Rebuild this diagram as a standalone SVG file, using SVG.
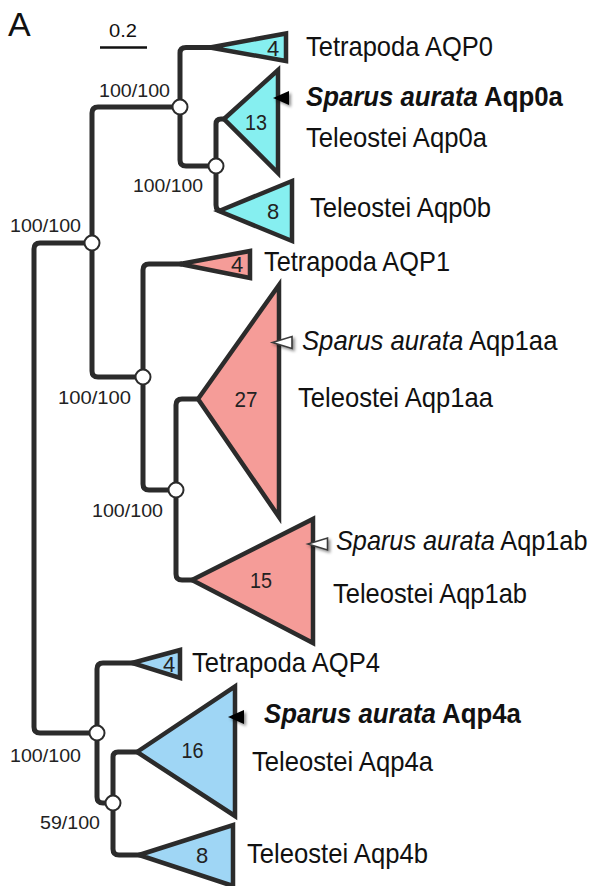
<svg xmlns="http://www.w3.org/2000/svg" width="596" height="886" viewBox="0 0 596 886">
  <style>
    text { font-family: "Liberation Sans", Arial, sans-serif; fill: #111; }
    .lbl { font-size: 28.5px; }
    .sp { font-weight: bold; }
    .it { font-style: italic; }
    .num { font-size: 22px; text-anchor: middle; fill: #222; }
    .sup { font-size: 17.5px; fill: #222; }
    .branch { fill: none; stroke: #2b2b2b; stroke-width: 5; stroke-linecap: butt; stroke-linejoin: round; }
    .node { fill: #fff; stroke: #2b2b2b; stroke-width: 2; }
    .clade { stroke: #2b2b2b; stroke-width: 4.5; stroke-linejoin: miter; }
    .aqp0 { fill: #86eff0; }
    .aqp1 { fill: #f59c98; }
    .aqp4 { fill: #9fd6f5; }
    .mk-black { fill: #000; filter: url(#shadow); }
    .mk-white { fill: #fff; stroke: #3a3a3a; stroke-width: 1.6; stroke-linejoin: miter; filter: url(#shadow); }
  </style>
  <defs>
    <filter id="shadow" x="-50%" y="-50%" width="200%" height="200%">
      <feDropShadow dx="2" dy="2" stdDeviation="1.5" flood-color="#000" flood-opacity="0.45"/>
    </filter>
  </defs>

  <rect width="596" height="886" fill="#fff"/>

  <!-- panel letter and scale bar -->
  <text x="8" y="36" font-size="34" fill="#111">A</text>
  <g id="scale-bar">
    <text x="109" y="37" font-size="19" textLength="28" lengthAdjust="spacingAndGlyphs" fill="#222">0.2</text>
    <line x1="100" y1="47.5" x2="147" y2="47.5" stroke="#111" stroke-width="2.5"/>
  </g>

  <!-- tree branches -->
  <g id="connectors">
    <!-- root -->
    <path class="branch" d="M92,243 H40 Q34,243 34,249 V727 Q34,733 40,733 H97"/>
    <!-- AQP0 + AQP1 clade -->
    <path class="branch" d="M92,243 V113 Q92,107 98,107 H180"/>
    <path class="branch" d="M92,243 V371 Q92,377 98,377 H143"/>
    <!-- AQP0 -->
    <path class="branch" d="M180,107 V53 Q180,47.5 186,47.5 H212"/>
    <path class="branch" d="M180,107 V160 Q180,166 186,166 H215"/>
    <path class="branch" d="M216,166 V124 Q216,119 221,119 H226"/>
    <path class="branch" d="M216,166 V205 Q216,211 222,211 H222"/>
    <!-- AQP1 -->
    <path class="branch" d="M143,377 V270 Q143,264 149,264 H182"/>
    <path class="branch" d="M143,377 V484 Q143,490 149,490 H176"/>
    <path class="branch" d="M176,490 V405 Q176,399 182,399 H200"/>
    <path class="branch" d="M176,490 V574 Q176,580 182,580 H194"/>
    <!-- AQP4 -->
    <path class="branch" d="M97,733 V669 Q97,663 103,663 H134"/>
    <path class="branch" d="M97,733 V797 Q97,803 103,803 H113"/>
    <path class="branch" d="M113,803 V757 Q113,752 118,752 H139"/>
    <path class="branch" d="M113,803 V849 Q113,855 119,855 H141"/>
  </g>

  <!-- support values at internal nodes -->
  <g id="node-aqp0">
    <circle class="node" cx="180" cy="107" r="7.5"/>
    <text class="sup" x="99" y="97" textLength="71" lengthAdjust="spacingAndGlyphs">100/100</text>
  </g>
  <g id="node-aqp0-teleostei">
    <circle class="node" cx="216" cy="166" r="7.5"/>
    <text class="sup" x="133" y="192" textLength="70" lengthAdjust="spacingAndGlyphs">100/100</text>
  </g>
  <g id="node-aqp0-aqp1">
    <circle class="node" cx="92" cy="243" r="7.5"/>
    <text class="sup" x="10" y="232" textLength="71" lengthAdjust="spacingAndGlyphs">100/100</text>
  </g>
  <g id="node-aqp1">
    <circle class="node" cx="143" cy="377" r="7.5"/>
    <text class="sup" x="58" y="404" textLength="73" lengthAdjust="spacingAndGlyphs">100/100</text>
  </g>
  <g id="node-aqp1-teleostei">
    <circle class="node" cx="176" cy="490" r="7.5"/>
    <text class="sup" x="92" y="517" textLength="71" lengthAdjust="spacingAndGlyphs">100/100</text>
  </g>
  <g id="node-aqp4">
    <circle class="node" cx="97" cy="733" r="7.5"/>
    <text class="sup" x="10" y="762" textLength="71" lengthAdjust="spacingAndGlyphs">100/100</text>
  </g>
  <g id="node-aqp4-teleostei">
    <circle class="node" cx="113" cy="803" r="7.5"/>
    <text class="sup" x="40" y="829" textLength="60" lengthAdjust="spacingAndGlyphs">59/100</text>
  </g>

  <!-- collapsed clades -->
  <g id="tetrapoda-aqp0">
    <polygon class="clade aqp0" points="210,47.5 286,33.5 286,61"/>
    <text class="num" x="273" y="55.5" font-size="20">4</text>
    <text class="lbl" x="306" y="56" textLength="187" lengthAdjust="spacingAndGlyphs">Tetrapoda AQP0</text>
  </g>
  <g id="teleostei-aqp0a">
    <polygon class="clade aqp0" points="224,119 278,70 278,173"/>
    <text class="num" x="256" y="130" font-size="23" textLength="22" lengthAdjust="spacingAndGlyphs">13</text>
    <polygon class="mk-black" points="273,98 289,91 289,105"/>
    <text class="lbl sp" transform="translate(306,106) scale(0.905,1)"><tspan class="it">Sparus aurata</tspan> Aqp0a</text>
    <text class="lbl" x="306" y="147" textLength="181" lengthAdjust="spacingAndGlyphs">Teleostei Aqp0a</text>
  </g>
  <g id="teleostei-aqp0b">
    <polygon class="clade aqp0" points="219,211 292,181 292,241"/>
    <text class="num" x="273" y="219">8</text>
    <text class="lbl" x="310" y="217" textLength="181" lengthAdjust="spacingAndGlyphs">Teleostei Aqp0b</text>
  </g>
  <g id="tetrapoda-aqp1">
    <polygon class="clade aqp1" points="180,264 250,251 250,278"/>
    <text class="num" x="237" y="272" font-size="20">4</text>
    <text class="lbl" x="264" y="271" textLength="186" lengthAdjust="spacingAndGlyphs">Tetrapoda AQP1</text>
  </g>
  <g id="teleostei-aqp1aa">
    <polygon class="clade aqp1" points="198,399 279,285 279,517"/>
    <text class="num" x="246" y="407" textLength="23" lengthAdjust="spacingAndGlyphs">27</text>
    <polygon class="mk-white" points="272.5,342.5 292,336.5 292,348.5"/>
    <text class="lbl" transform="translate(302,350) scale(0.901,1)"><tspan class="it">Sparus aurata</tspan> Aqp1aa</text>
    <text class="lbl" x="298" y="407" textLength="195" lengthAdjust="spacingAndGlyphs">Teleostei Aqp1aa</text>
  </g>
  <g id="teleostei-aqp1ab">
    <polygon class="clade aqp1" points="192,580 313,519 313,643"/>
    <text class="num" x="261" y="588" textLength="22" lengthAdjust="spacingAndGlyphs">15</text>
    <polygon class="mk-white" points="308,544 327.5,538 327.5,550"/>
    <text class="lbl" transform="translate(336,550) scale(0.887,1)"><tspan class="it">Sparus aurata</tspan> Aqp1ab</text>
    <text class="lbl" x="333" y="603" textLength="194" lengthAdjust="spacingAndGlyphs">Teleostei Aqp1ab</text>
  </g>
  <g id="tetrapoda-aqp4">
    <polygon class="clade aqp4" points="132,663 180,650 180,678"/>
    <text class="num" x="169" y="672" font-size="20">4</text>
    <text class="lbl" x="192" y="672" textLength="188" lengthAdjust="spacingAndGlyphs">Tetrapoda AQP4</text>
  </g>
  <g id="teleostei-aqp4a">
    <polygon class="clade aqp4" points="137,752 235,686.5 235,816"/>
    <text class="num" x="192.5" y="758" textLength="22" lengthAdjust="spacingAndGlyphs">16</text>
    <polygon class="mk-black" points="228,717 244,710 244,724"/>
    <text class="lbl sp" transform="translate(264,723) scale(0.905,1)"><tspan class="it">Sparus aurata</tspan> Aqp4a</text>
    <text class="lbl" x="252" y="771" textLength="181" lengthAdjust="spacingAndGlyphs">Teleostei Aqp4a</text>
  </g>
  <g id="teleostei-aqp4b">
    <polygon class="clade aqp4" points="139,855 233,825 233,886"/>
    <text class="num" x="202" y="863">8</text>
    <text class="lbl" x="247" y="863" textLength="181" lengthAdjust="spacingAndGlyphs">Teleostei Aqp4b</text>
  </g>
</svg>
